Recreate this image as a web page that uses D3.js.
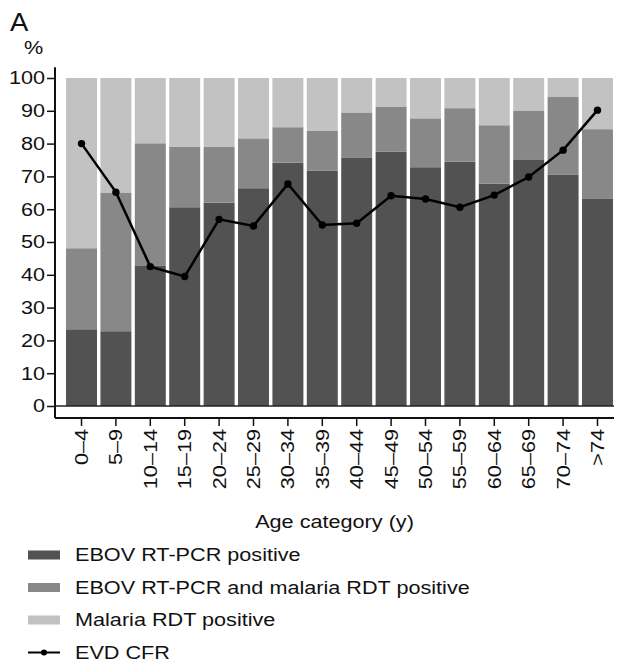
<!DOCTYPE html>
<html>
<head>
<meta charset="utf-8">
<script src="https://cdn.jsdelivr.net/npm/d3@7"></script>
<style>
body { margin: 0; background: #fff; }
text { font-family: "Liberation Sans", Arial, sans-serif; fill: #111; }
</style>
</head>
<body>
<div id="chart"></div>
<script>
var ages = ["0\u20134", "5\u20139", "10\u201314", "15\u201319", "20\u201324", "25\u201329", "30\u201334", "35\u201339",
    "40\u201344", "45\u201349", "50\u201354", "55\u201359", "60\u201364", "65\u201369", "70\u201374", ">74"];
// cumulative tops of each stacked segment, in %
var ebovOnly = [23.4, 22.8, 42.7, 60.6, 62.0, 66.4, 74.2, 71.7, 75.8, 77.5, 72.8, 74.5, 67.8, 75.2, 70.6, 63.3];
var ebovMalaria = [48.1, 65.1, 80.1, 79.1, 79.1, 81.6, 85.0, 84.0, 89.5, 91.3, 87.7, 90.8, 85.6, 90.1, 94.2, 84.4];
var malariaOnly = [100, 100, 100, 100, 100, 100, 100, 100, 100, 100, 100, 100, 100, 100, 100, 100];
var cfr = [80.0, 65.2, 42.5, 39.5, 56.9, 54.9, 67.7, 55.2, 55.7, 64.1, 63.1, 60.6, 64.3, 69.8, 78.0, 90.2];
var yTicks = [0, 10, 20, 30, 40, 50, 60, 70, 80, 90, 100];
var legendNames = ["EBOV RT-PCR positive", "EBOV RT-PCR and malaria RDT positive", "Malaria RDT positive", "EVD CFR"];

var colors = ["#525252", "#888888", "#c2c2c2"];
var wide = 1.17; // the original type is set a bit wide
var fs = '18.5px';

var svg = d3.select('#chart').append('svg')
    .attr('width', 618)
    .attr('height', 663);

var x = d3.scaleBand().domain(ages).range([65, 614]).paddingInner(0.1).paddingOuter(0.03);
var y = d3.scaleLinear().domain([0, 100]).range([406, 78]);
var axisX = 55, axisY = 418;

// panel letter and unit
svg.append('text').attr('transform', 'translate(10,31) scale(1.1,1)')
    .style('font-size', '25px').text('A');
svg.append('text').attr('transform', 'translate(24,54) scale(' + wide + ',1)')
    .style('font-size', fs).text('%');

// stacked bars
var rows = ages.map(function(a, i) {
    return [
        { lo: 0, hi: ebovOnly[i], c: 0 },
        { lo: ebovOnly[i], hi: ebovMalaria[i], c: 1 },
        { lo: ebovMalaria[i], hi: malariaOnly[i], c: 2 }
    ].map(function(s) { s.age = a; return s; });
});

svg.append('g').selectAll('g')
    .data(rows)
    .enter()
    .append('g')
    .selectAll('rect')
    .data(function(d) { return d; })
    .enter()
    .append('rect')
    .attr('x', function(d) { return x(d.age); })
    .attr('width', x.bandwidth())
    .attr('y', function(d) { return y(d.hi); })
    .attr('height', function(d) { return y(d.lo) - y(d.hi); })
    .attr('fill', function(d) { return colors[d.c]; });

// zero line across the plot
svg.append('line')
    .attr('x1', axisX).attr('x2', x.range()[1])
    .attr('y1', y(0)).attr('y2', y(0))
    .attr('stroke', '#222').attr('stroke-width', 1.5);

// y axis
var gy = svg.append('g')
    .attr('transform', 'translate(' + axisX + ',0)')
    .call(d3.axisLeft(y).tickValues(yTicks).tickSize(8));
gy.select('.domain').remove();
gy.selectAll('.tick line').attr('stroke', '#111').attr('stroke-width', 1.5);
gy.selectAll('.tick text')
    .style('font-size', fs)
    .attr('fill', '#111')
    .attr('x', 0)
    .attr('transform', 'translate(-10,0) scale(' + wide + ',1)');
gy.append('line')
    .attr('x1', 0).attr('x2', 0)
    .attr('y1', y(103.3)).attr('y2', axisY)
    .attr('stroke', '#111').attr('stroke-width', 2);

// x axis
var gx = svg.append('g')
    .attr('transform', 'translate(0,' + axisY + ')')
    .call(d3.axisBottom(x).tickSize(8));
gx.select('.domain').remove();
gx.append('line')
    .attr('x1', axisX).attr('x2', x.range()[1])
    .attr('y1', 0).attr('y2', 0)
    .attr('stroke', '#111').attr('stroke-width', 2);
gx.selectAll('.tick line').attr('stroke', '#111').attr('stroke-width', 1.5);
gx.selectAll('.tick text')
    .style('font-size', fs)
    .attr('fill', '#111')
    .attr('text-anchor', 'end')
    .attr('dy', '0.35em')
    .attr('x', 0)
    .attr('y', 0)
    .attr('transform', 'translate(0,11) rotate(-90) scale(' + wide + ',1)');

svg.append('text')
    .attr('transform', 'translate(' + ((axisX + x.range()[1]) / 2) + ',528) scale(' + wide + ',1)')
    .attr('text-anchor', 'middle')
    .style('font-size', fs)
    .text('Age category (y)');

// CFR line
var line = d3.line()
    .x(function(d, i) { return x(ages[i]) + x.bandwidth() / 2; })
    .y(function(d) { return y(d); });

svg.append('path')
    .datum(cfr)
    .attr('d', line)
    .attr('fill', 'none')
    .attr('stroke', '#000')
    .attr('stroke-width', 2.5);

svg.append('g').selectAll('circle')
    .data(cfr)
    .enter()
    .append('circle')
    .attr('cx', function(d, i) { return x(ages[i]) + x.bandwidth() / 2; })
    .attr('cy', function(d) { return y(d); })
    .attr('r', 3.7)
    .attr('fill', '#000');

// legend
var leg = svg.append('g').selectAll('g')
    .data(legendNames)
    .enter()
    .append('g')
    .attr('transform', function(d, i) { return 'translate(28,' + (555 + i * 32.5) + ')'; });

leg.filter(function(d, i) { return i < 3; })
    .append('rect')
    .attr('x', 0).attr('y', -4.5)
    .attr('width', 32).attr('height', 9)
    .attr('fill', function(d, i) { return colors[i]; });

var lastLeg = leg.filter(function(d, i) { return i === 3; });
lastLeg.append('line')
    .attr('x1', 0).attr('x2', 32).attr('y1', 0).attr('y2', 0)
    .attr('stroke', '#000').attr('stroke-width', 2);
lastLeg.append('circle').attr('cx', 16).attr('cy', 0).attr('r', 3).attr('fill', '#000');

leg.append('text')
    .attr('dy', '0.35em')
    .attr('transform', 'translate(47,0) scale(' + wide + ',1)')
    .style('font-size', fs)
    .text(function(d) { return d; });
</script>
</body>
</html>
